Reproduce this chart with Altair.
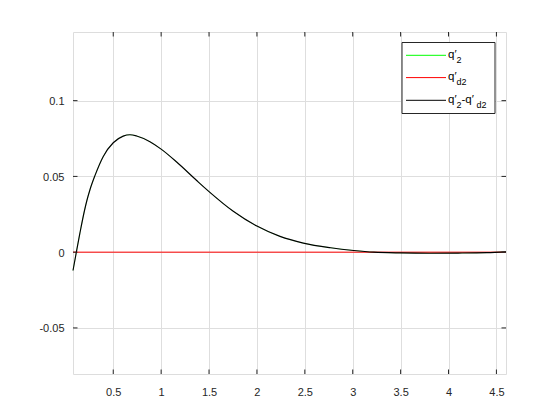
import altair as alt
import pandas as pd

# ---- data ----
x_vals = [0.08, 0.115, 0.152, 0.20, 0.225, 0.257, 0.309, 0.396, 0.5, 0.604, 0.674,
          0.744, 0.883, 1.0, 1.162, 1.371, 1.5, 1.753, 2.0, 2.241, 2.484, 2.77,
          3.01, 3.22, 3.5, 3.8, 4.1, 4.4, 4.6]
q2_minus_qd2 = [-0.0121, 0.0, 0.0125, 0.0275, 0.0341, 0.0412, 0.0505, 0.0632, 0.0722,
                0.0766, 0.0775, 0.0767, 0.0729, 0.0680, 0.0595, 0.0473, 0.0400,
                0.0270, 0.0172, 0.0104, 0.0060, 0.0029, 0.0011, 0.0, -0.0005,
                -0.0007, -0.0006, -0.0003, 0.0002]
q2 = list(q2_minus_qd2)            # hidden under the black curve
qd2_x = [0.08, 4.6]
qd2 = [0.0, 0.0]

x_ticks = [0.5, 1, 1.5, 2, 2.5, 3, 3.5, 4, 4.5]
y_ticks = [-0.05, 0, 0.05, 0.1]
x_domain = [0.08, 4.6]
y_domain = [-0.0804, 0.1453]

legend_colors = ["#00ff00", "#ff0000", "#000000"]

W, H = 433, 342
AX = "#262626"
FONT = "Liberation Sans"

df_black = pd.DataFrame({"x": x_vals, "y": q2_minus_qd2})
df_green = pd.DataFrame({"x": x_vals, "y": q2})
df_red = pd.DataFrame({"x": qd2_x, "y": qd2})

lblx = "'' + datum.value"
xscale = alt.Scale(domain=x_domain, nice=False, zero=False)
yscale = alt.Scale(domain=y_domain, nice=False, zero=False)

xenc = alt.X("x:Q", scale=xscale, title=None,
             axis=alt.Axis(values=x_ticks, labelExpr=lblx, grid=True, gridColor="#dedede",
                           ticks=False, tickSize=0, domain=False, labelPadding=12,
                           labelFont=FONT, labelFontSize=11, labelColor=AX))
yenc = alt.Y("y:Q", scale=yscale, title=None,
             axis=alt.Axis(values=y_ticks, labelExpr=lblx, grid=True, gridColor="#dedede",
                           ticks=False, tickSize=0, domain=False, labelPadding=9,
                           labelOffset=1, labelFont=FONT, labelFontSize=11,
                           labelColor=AX))

green = alt.Chart(df_green).mark_line(color=legend_colors[0], strokeWidth=0.3,
                                      interpolate="monotone").encode(x=xenc, y=yenc)
red = alt.Chart(df_red).mark_line(color=legend_colors[1], strokeWidth=1).encode(
    x="x:Q", y="y:Q")
black = alt.Chart(df_black).mark_line(color=legend_colors[2], strokeWidth=1.15,
                                      interpolate="monotone").encode(x="x:Q", y="y:Q")

# inward ticks on all four sides
tx = pd.DataFrame({"x": x_ticks})
ty = pd.DataFrame({"y": y_ticks})
tick_b = alt.Chart(tx).mark_rule(color=AX, strokeWidth=1).encode(
    x="x:Q", y=alt.value(H - 4.5), y2=alt.value(H))
tick_t = alt.Chart(tx).mark_rule(color=AX, strokeWidth=1).encode(
    x="x:Q", y=alt.value(0), y2=alt.value(4.5))
tick_l = alt.Chart(ty).mark_rule(color=AX, strokeWidth=1).encode(
    y="y:Q", x=alt.value(0), x2=alt.value(4.5))
tick_r = alt.Chart(ty).mark_rule(color=AX, strokeWidth=1).encode(
    y="y:Q", x=alt.value(W - 4.5), x2=alt.value(W))

# legend (MATLAB style box)
one = alt.Data(values=[{}])
box = alt.Chart(one).mark_rect(fill="white", stroke=AX, strokeWidth=1).encode(
    x=alt.value(329), x2=alt.value(422), y=alt.value(10.5), y2=alt.value(81.5))

line_y = [23.3, 45.6, 68.3]
layers = [box]
for c, ly in zip(legend_colors, line_y):
    layers.append(alt.Chart(one).mark_rule(color=c, strokeWidth=1).encode(
        x=alt.value(333), x2=alt.value(373), y=alt.value(ly), y2=alt.value(ly)))

legend_main = [["q\u2032"], ["q\u2032"], ["q\u2032", "-q\u2032"]]
legend_sub = [["2"], ["d2"], ["2", "d2"]]
main_x = [[375], [375], [375, 388.5]]
sub_x = [[383.5], [383.5], [383.5, 403.5]]


def txt(s, x, y, size):
    return alt.Chart(one).mark_text(align="left", baseline="alphabetic", font=FONT,
                                    fontSize=size, color="#000000").encode(
        x=alt.value(x), y=alt.value(y), text=alt.value(s))


for i, ly in enumerate(line_y):
    for s, xx in zip(legend_main[i], main_x[i]):
        layers.append(txt(s, xx, ly + 2.5, 11.5))
    for s, xx in zip(legend_sub[i], sub_x[i]):
        layers.append(txt(s, xx, ly + 7.5, 9))

chart = alt.layer(green, red, black, tick_b, tick_t, tick_l, tick_r, *layers).properties(
    width=W, height=H, autosize=alt.AutoSizeParams(type="none"),
    padding={"left": 65, "top": 24, "right": 10, "bottom": 40},
).configure_view(stroke=AX, strokeWidth=1).configure(background="white")

chart.save("out.html", embed_options={"renderer": "svg", "actions": False})
